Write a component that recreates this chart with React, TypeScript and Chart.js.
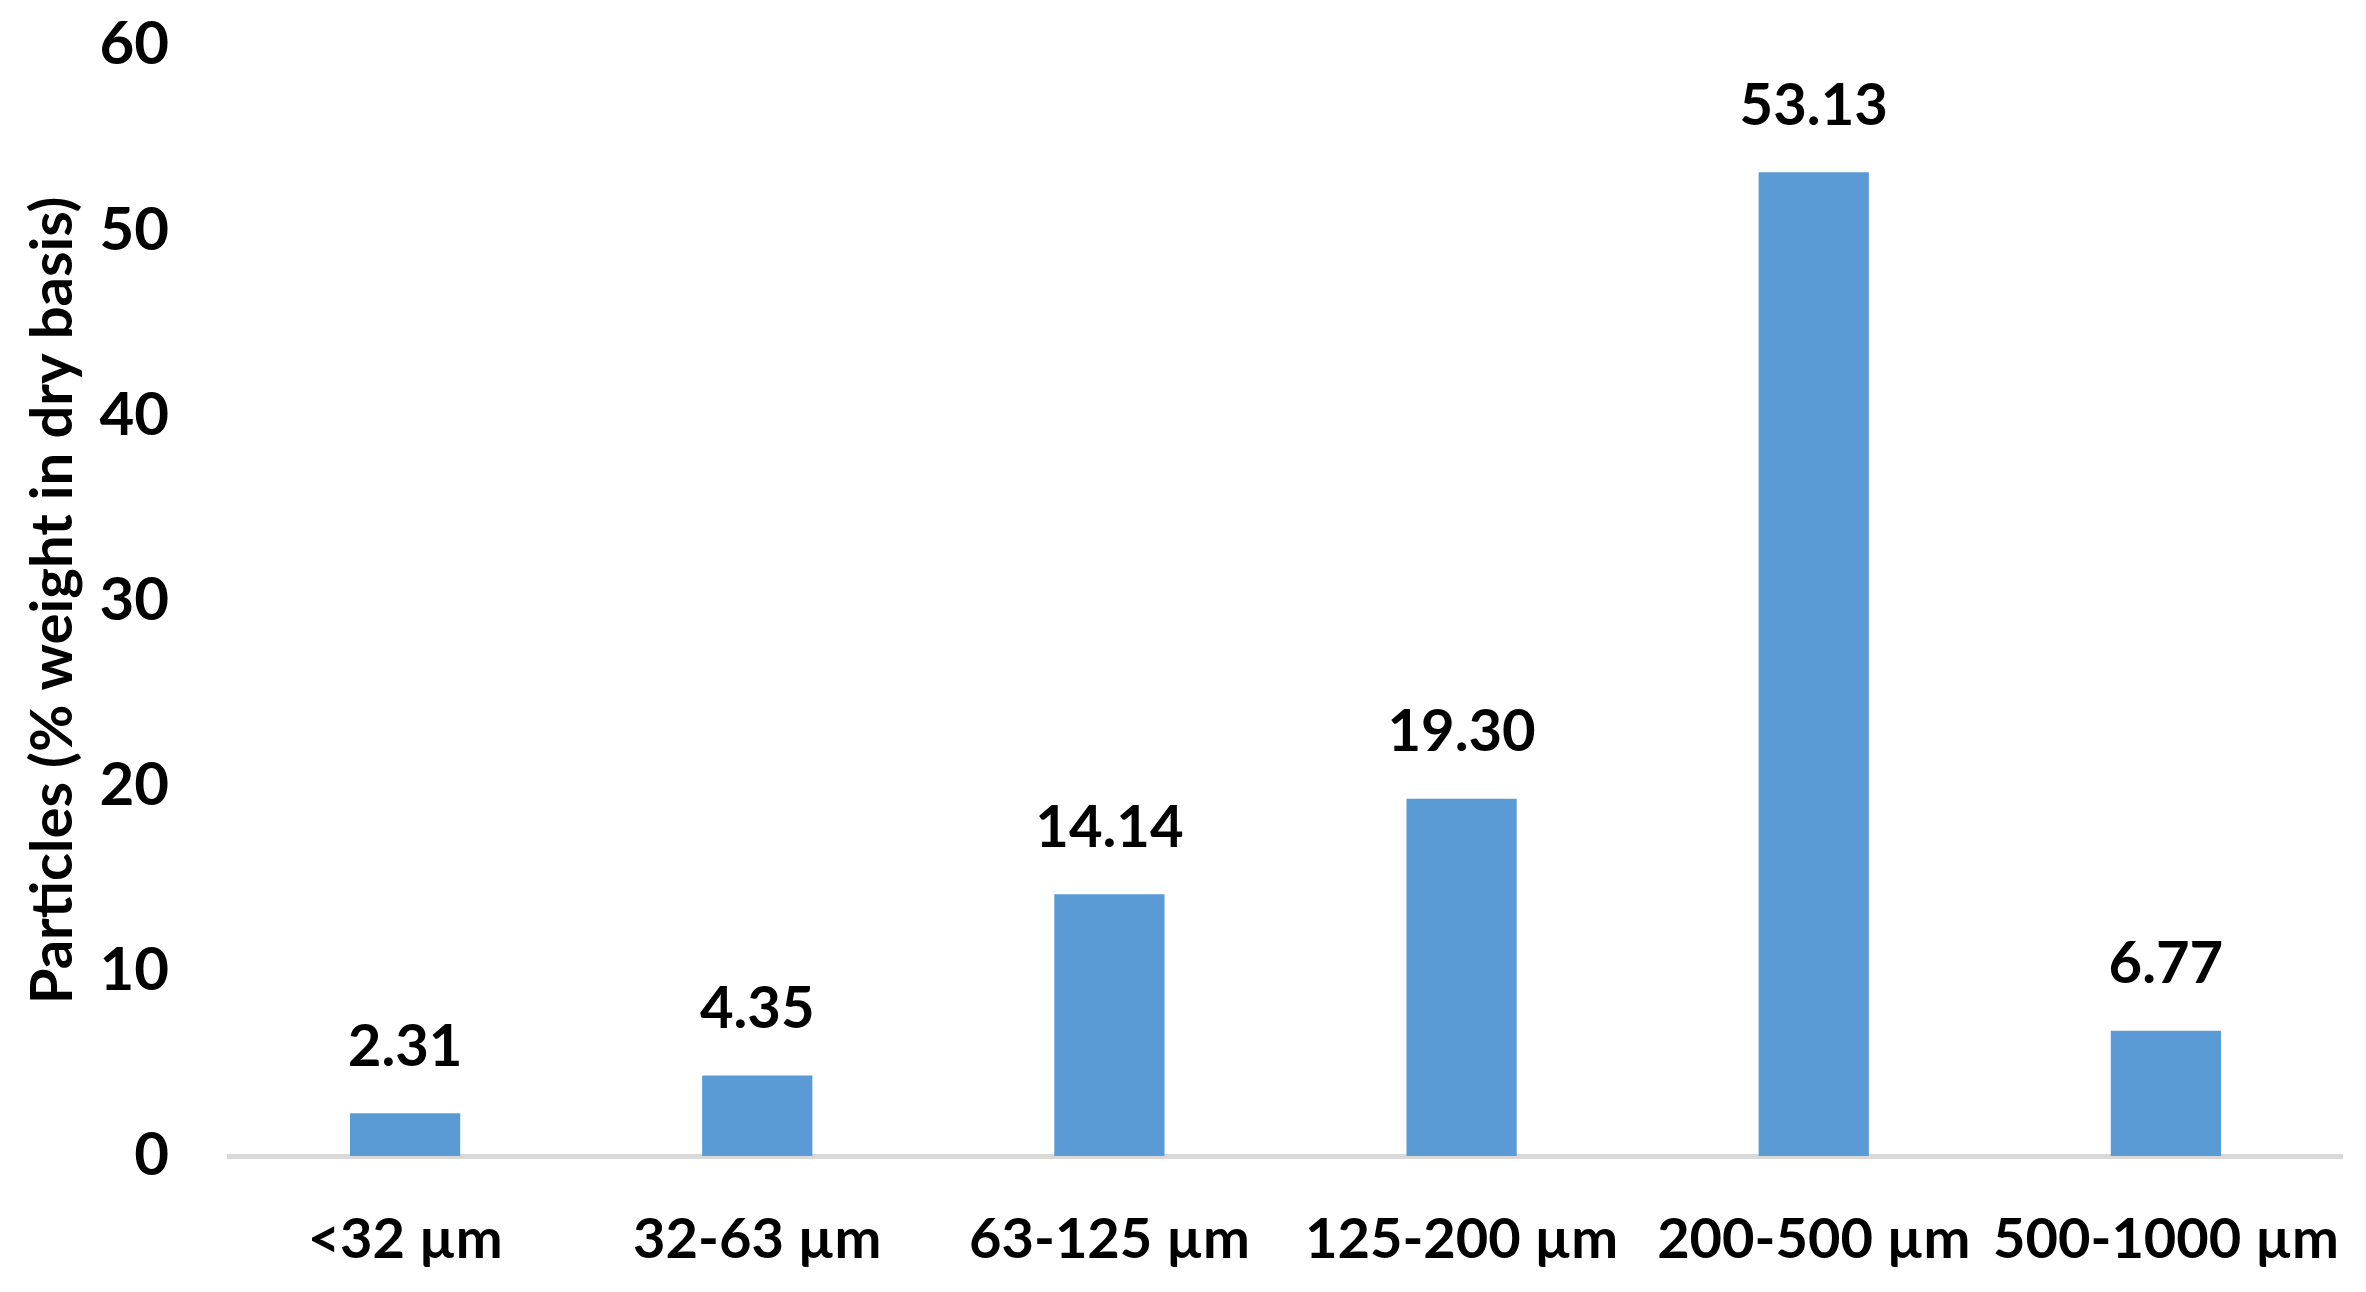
import { useEffect, useRef } from "react";
import { Chart, registerables } from "chart.js";

Chart.register(...registerables);

const categories = ["<32 µm", "32-63 µm", "63-125 µm", "125-200 µm", "200-500 µm", "500-1000 µm"];
const particleShares = [2.31, 4.35, 14.14, 19.3, 53.13, 6.77];
const yTicks = [0, 10, 20, 30, 40, 50, 60];

const FONT = "Lato, 'Open Sans', sans-serif";
const BAR_COLOR = "#5B9BD5";

// draws the value above each bar, two decimals like the source
const barValueLabels = {
  id: "barValueLabels",
  afterDatasetsDraw(chart: Chart) {
    const ctx = chart.ctx;
    const meta = chart.getDatasetMeta(0);
    ctx.save();
    ctx.font = `bold 58px ${FONT}`;
    ctx.fillStyle = "#000";
    ctx.textAlign = "center";
    ctx.textBaseline = "middle";
    meta.data.forEach((bar: any, i: number) => {
      ctx.fillText(particleShares[i].toFixed(2), bar.x, bar.y - 66);
    });
    ctx.restore();
  },
};

export default function App() {
  const ref = useRef<HTMLCanvasElement>(null);

  useEffect(() => {
    document.body.style.margin = "0";
    if (!ref.current) return;
    const chart = new Chart(ref.current, {
      type: "bar",
      data: {
        labels: categories,
        datasets: [{
          data: particleShares,
          backgroundColor: BAR_COLOR,
          borderWidth: 0,
          categoryPercentage: 1,
          barPercentage: 0.313,
        }],
      },
      options: {
        responsive: false,
        animation: false,
        layout: { padding: { top: 45, right: 24, bottom: 0, left: 0 } },
        plugins: {
          legend: { display: false },
          tooltip: { enabled: false },
        },
        scales: {
          x: {
            grid: { display: false, drawTicks: false },
            border: { display: true, color: "#D9D9D9", width: 5 },
            ticks: {
              color: "#000",
              padding: 50,
              font: { family: FONT, size: 56, weight: "bold" },
              maxRotation: 0,
              autoSkip: false,
            },
            afterFit(scale: any) {
              scale.height = 136;
              // labels fit inside their categories, no extra side room needed
              scale.paddingLeft = 0;
              scale.paddingRight = 0;
            },
          },
          y: {
            min: 0,
            max: 60,
            afterBuildTicks(scale: any) { scale.ticks = yTicks.map((v) => ({ value: v })); },
            grid: { display: false, drawTicks: false },
            border: { display: false },
            ticks: {
              color: "#000",
              padding: 60,
              font: { family: FONT, size: 60, weight: "bold" },
            },
            title: {
              display: true,
              text: "Particles (% weight in dry basis)",
              color: "#000",
              font: { family: FONT, size: 58, weight: "bold" },
              padding: { top: 18, bottom: 0 },
            },
            afterFit(scale: any) {
              scale.width = 229;
              // tick padding is meant for the horizontal gap only
              scale.paddingTop = 0;
              scale.paddingBottom = 0;
            },
          },
        },
      },
      plugins: [barValueLabels],
    });
    return () => chart.destroy();
  }, []);

  return (
    <div style={{ width: 2366, height: 1292, background: "#fff" }}>
      <canvas ref={ref} width={2366} height={1292} role="img" aria-label="Bar chart of particle size distribution">
        Particle size distribution by sieve fraction.
      </canvas>
    </div>
  );
}
